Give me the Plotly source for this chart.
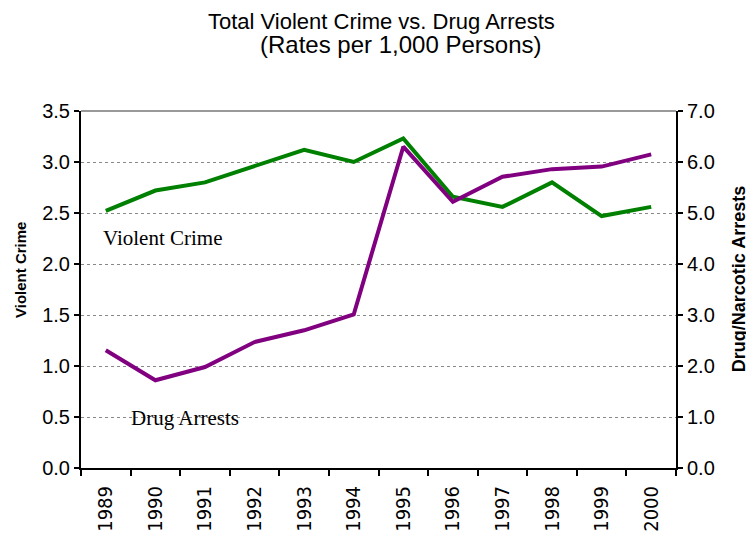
import plotly.graph_objects as go

years = ["1989", "1990", "1991", "1992", "1993", "1994", "1995", "1996", "1997", "1998", "1999", "2000"]
violent_crime = [2.52, 2.72, 2.80, 2.96, 3.12, 3.00, 3.23, 2.66, 2.56, 2.80, 2.47, 2.56]
drug_arrests = [2.31, 1.72, 1.98, 2.47, 2.70, 3.01, 6.30, 5.22, 5.71, 5.86, 5.91, 6.15]
left_ticks = [0.0, 0.5, 1.0, 1.5, 2.0, 2.5, 3.0, 3.5]
right_ticks = [0.0, 1.0, 2.0, 3.0, 4.0, 5.0, 6.0, 7.0]

fig = go.Figure()
fig.add_trace(go.Scatter(x=years, y=violent_crime, mode="lines", name="Violent Crime",
                         line=dict(color="#008000", width=4), yaxis="y"))
fig.add_trace(go.Scatter(x=years, y=drug_arrests, mode="lines", name="Drug Arrests",
                         line=dict(color="#800080", width=4), yaxis="y2"))

sans = "Liberation Sans, Arial"
serif = "Liberation Serif, Times New Roman"
tickfont = dict(family=sans, size=20, color="black")
fig.update_layout(
    width=746, height=538,
    margin=dict(l=73, r=78, t=103, b=78, autoexpand=False),
    paper_bgcolor="white", plot_bgcolor="white",
    showlegend=False,
    xaxis=dict(type="category", range=[-0.5, 11.5], tickson="boundaries", ticks="outside", ticklen=6,
               tickcolor="black", tickwidth=2, showline=True, linecolor="black", linewidth=2,
               tickangle=-90, showgrid=False, ticklabelstandoff=8,
               tickfont=dict(family="Liberation Sans Narrow, DejaVu Sans Condensed, Arial", size=20, color="black")),
    yaxis=dict(range=[0, 3.5], tickvals=left_ticks, ticktext=[f"{v:.1f}" for v in left_ticks],
               showline=True, linecolor="black", linewidth=2, ticks="outside", ticklen=5,
               tickcolor="black", tickwidth=2, showgrid=True, gridcolor="#888888",
               griddash="dot", gridwidth=1, zeroline=False, tickfont=tickfont),
    yaxis2=dict(range=[0, 7.0], tickvals=right_ticks, ticktext=[f"{v:.1f}" for v in right_ticks],
                overlaying="y", side="right", showline=True, linecolor="black", linewidth=2,
                ticks="outside", ticklen=5, tickcolor="black", tickwidth=2, showgrid=False,
                zeroline=False, tickfont=tickfont),
)

fig.add_shape(type="line", xref="paper", yref="paper", x0=0, x1=1, y0=1, y1=1,
              line=dict(color="#999999", width=2))

# title lines
fig.add_annotation(text="Total Violent Crime vs. Drug Arrests", xref="paper", yref="paper",
                   x=0.505, y=1.251, xanchor="center", yanchor="middle", showarrow=False,
                   borderpad=0, font=dict(family=sans, size=22, color="black"))
fig.add_annotation(text="(Rates per 1,000 Persons)", xref="paper", yref="paper",
                   x=0.537, y=1.187, xanchor="center", yanchor="middle", showarrow=False,
                   borderpad=0, font=dict(family=sans, size=24, color="black"))

# axis titles
fig.add_annotation(text="<b>Violent Crime</b>", xref="paper", yref="paper",
                   x=-0.1025, y=0.5546, xanchor="center", yanchor="middle", textangle=-90,
                   showarrow=False, font=dict(family=sans, size=15, color="black"))
fig.add_annotation(text="<b>Drug/Narcotic Arrests</b>", xref="paper", yref="paper",
                   x=1.106, y=0.529, xanchor="center", yanchor="middle", textangle=-90,
                   showarrow=False, font=dict(family=sans, size=18, color="black"))

# series labels
fig.add_annotation(text="Violent Crime", xref="paper", yref="paper", x=0.033, y=0.644,
                   xanchor="left", yanchor="middle", showarrow=False,
                   font=dict(family=serif, size=21, color="black"))
fig.add_annotation(text="Drug Arrests", xref="paper", yref="paper", x=0.08, y=0.14,
                   xanchor="left", yanchor="middle", showarrow=False,
                   font=dict(family=serif, size=21, color="black"))

fig.write_html("out.html")
